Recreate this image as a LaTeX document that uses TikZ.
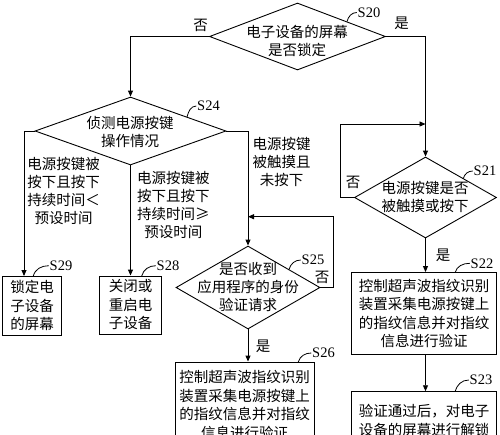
\documentclass[tikz,border=0pt]{standalone}
\usepackage{fontspec}
\setmainfont{Liberation Serif}
\newfontfamily\cjk{Noto Sans CJK SC}
\usetikzlibrary{shapes.geometric,arrows.meta,calc}
\begin{document}
\begin{tikzpicture}[x=1pt,y=-1pt,
  line width=0.9pt,
  arr/.style={-{Triangle[length=6pt,width=5pt]}},
  dia/.style={draw,shape=diamond,inner sep=0pt},
  box/.style={draw,align=center,inner sep=0pt,font=\cjk\fontsize{14.5}{18.5}\selectfont},
  txt/.style={align=center,inner sep=0pt,font=\cjk\fontsize{14.5}{18}\selectfont},
  stag/.style={inner sep=0pt,font=\fontsize{14.5}{16}\selectfont},
  lead/.style={line width=0.8pt}
]
\useasboundingbox (0,0) rectangle (500,434);
\clip (0,0) rectangle (500,434);

% decisions
\node[dia,minimum width=176,minimum height=67] (s20) at (297.5,36.5) {};
\node[txt] (t20) at (297,40.5) {电子设备的屏幕\\是否锁定};
\node[dia,minimum width=191,minimum height=68] (s24) at (130.5,131) {};
\node[txt] (t24) at (130,131.7) {侦测电源按键\\操作情况};
\node[dia,minimum width=144,minimum height=83] (s25) at (248,287.5) {};
\node[txt] (t25) at (248,286.8) {是否收到\\应用程序的身份\\验证请求};
\node[dia,minimum width=142,minimum height=81] (s21) at (425.5,197.5) {};
\node[txt] (t21) at (425,197.2) {电源按键是否\\被触摸或按下};

% process boxes
\node[box,minimum width=59,minimum height=59] (s29) at (32.2,305.5) {锁定电\\子设备\\的屏幕};
\node[box,minimum width=61.7,minimum height=58] (s28) at (130.5,305) {关闭或\\重启电\\子设备};
\node[box,minimum width=139,minimum height=86] (s26) at (244.5,405) {控制超声波指纹识别\\装置采集电源按键上\\的指纹信息并对指纹\\信息进行验证};
\node[box,minimum width=145,minimum height=82] (s22) at (424.2,313.5) {控制超声波指纹识别\\装置采集电源按键上\\的指纹信息并对指纹\\信息进行验证};
\node[box,minimum width=145,minimum height=58] (s23) at (424.2,420.7) {验证通过后，对电子\\设备的屏幕进行解锁};

% branch labels
\node[txt] (n20) at (200.7,25) {否};
\node[txt] (y20) at (401.7,23) {是};
\node[txt] (n21) at (353,182) {否};
\node[txt] (y21) at (443,255) {是};
\node[txt] (n25) at (322,277) {否};
\node[txt] (y25) at (263,346) {是};
\node[txt] (b1) at (63.5,190.5) {电源按键被\\按下且按下\\持续时间＜\\预设时间};
\node[txt] (b2) at (173.3,204.5) {电源按键被\\按下且按下\\持续时间≥\\预设时间};
\node[txt] (b3) at (281.7,161.7) {电源按键\\被触摸且\\未按下};

% connectors
\coordinate (j29) at (24,276);
\coordinate (j21) at (425.5,124);
\coordinate (j25) at (248,216.7);
\draw[arr] (s20.west) -| (s24.north);
\draw[arr] (s20.east) -| (s21.north);
\draw[arr] (s21.west) -- ++(-14,0) |- (j21);
\draw[arr] (s24.west) -| (j29);
\draw[arr] (s24.south) -- (s28.north);
\draw[arr] (s24.east) -| (s25.north);
\draw[arr] (s25.east) -- ++(13,0) |- (j25);
\draw[arr] (s25.south) -- (s25.south |- s26.north);
\draw[arr] (s21.south) -- (s21.south |- s22.north);
\draw[arr] (s22.south -| s21.south) -- (s21.south |- s23.north);

% step tags
\node[stag] (l20) at (369,12.5) {S20};
\node[stag] (l24) at (208.5,106) {S24};
\node[stag] (l25) at (313,260) {S25};
\node[stag] (l21) at (485,171) {S21};
\node[stag] (l22) at (482,263.3) {S22};
\node[stag] (l23) at (481,380) {S23};
\node[stag] (l26) at (323.5,353) {S26};
\node[stag] (l29) at (61,265.7) {S29};
\node[stag] (l28) at (168,265.7) {S28};
\coordinate (a20) at (347,21.5);
\coordinate (a24) at (187,117);
\coordinate (a25) at (289,269.5);
\coordinate (a21) at (463.3,178.5);
\coordinate (a22) at (455,272.7);
\coordinate (a23) at (455,391.7);
\coordinate (a26) at (298.3,362);
\coordinate (a29) at (33.3,276);
\coordinate (a28) at (141.7,276);
\foreach \s in {20,24,25,21,22,23,26,29,28}
  \draw[lead] (a\s) to[out=75,in=180] ([xshift=-0.5pt]l\s.west);
\end{tikzpicture}
\end{document}
